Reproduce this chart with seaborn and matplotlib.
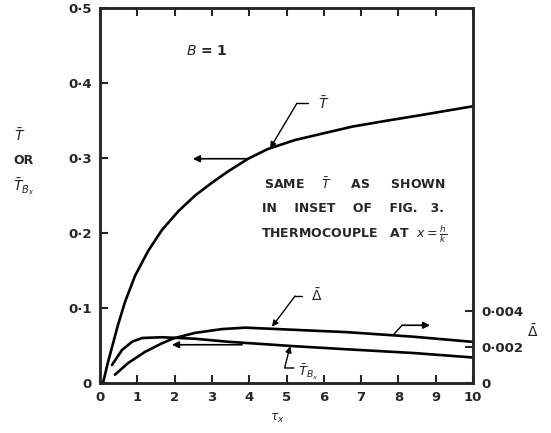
import numpy as np
import pandas as pd
import matplotlib
matplotlib.use("Agg")
import matplotlib.pyplot as plt
import seaborn as sns

sns.set_style("ticks")
plt.rcParams['font.family'] = ['DejaVu Sans']
plt.rcParams['mathtext.fontset'] = 'dejavusans'

# T bar (left axis)
t_x = [0.08, 0.21, 0.35, 0.48, 0.67, 0.94, 1.29, 1.66, 2.1, 2.55, 3.0, 3.43, 3.97, 4.5, 5.23, 6.0, 6.78, 7.6, 8.58, 10.0]
t_y = [0.0, 0.027, 0.053, 0.077, 0.108, 0.143, 0.176, 0.204, 0.229, 0.250, 0.267, 0.282, 0.299, 0.312, 0.324, 0.333, 0.342, 0.349, 0.357, 0.369]

# T bar Bx (left axis)
tb_x = [0.32, 0.59, 0.86, 1.13, 1.66, 2.55, 3.43, 4.34, 5.23, 6.6, 8.4, 10.0]
tb_y = [0.024, 0.044, 0.055, 0.060, 0.061, 0.059, 0.055, 0.052, 0.049, 0.045, 0.040, 0.034]

# Delta bar (right axis)
d_x = [0.40, 0.75, 1.2, 1.66, 1.96, 2.55, 3.27, 3.89, 4.77, 6.62, 8.39, 10.0]
d_y = [0.00046, 0.00110, 0.00172, 0.0022, 0.00247, 0.00278, 0.00299, 0.00307, 0.00299, 0.00282, 0.00257, 0.00228]

x_ticks = list(range(0, 11))
x_ticklabels = [str(v) for v in x_ticks]
y_ticks = [0, 0.1, 0.2, 0.3, 0.4, 0.5]
y_ticklabels = ["0", "0·1", "0·2", "0·3", "0·4", "0·5"]
r_ticks = [0, 0.002, 0.004]
r_ticklabels = ["0", "0·002", "0·004"]

t_df = pd.DataFrame({"tau": t_x, "val": t_y})
tb_df = pd.DataFrame({"tau": tb_x, "val": tb_y})
d_df = pd.DataFrame({"tau": d_x, "val": d_y})

fig = plt.figure(figsize=(5.51, 4.33), dpi=100)
ax = fig.add_axes([100 / 551, 1 - 383 / 433, 373 / 551, 375 / 433])
ax2 = ax.twinx()

lw = 1.9
sns.lineplot(data=t_df, x="tau", y="val", color="black", lw=lw, ax=ax, sort=False)
sns.lineplot(data=tb_df, x="tau", y="val", color="black", lw=lw, ax=ax, sort=False)
sns.lineplot(data=d_df, x="tau", y="val", color="black", lw=lw, ax=ax2, sort=False)

ax.set_xlim(0, 10)
ax.set_ylim(0, 0.5)
ax2.set_ylim(0, 0.0208)

fw = "bold"
fs = 9.5
ax.set_xticks(x_ticks)
ax.set_xticklabels(x_ticklabels, fontsize=fs, fontweight=fw)
ax.set_yticks(y_ticks)
ax.set_yticklabels(y_ticklabels, fontsize=fs, fontweight=fw)
ax2.set_yticks(r_ticks)
ax2.set_yticklabels(r_ticklabels, fontsize=fs, fontweight=fw)
ax.tick_params(axis="both", direction="in", length=6, width=1.5, pad=6,
               top=True, labeltop=False)
ax2.tick_params(axis="y", direction="in", length=6, width=1.5, pad=6)
ax.set_xlabel("")
ax.set_ylabel("")
ax2.set_ylabel("")
for a in (ax, ax2):
    for s in a.spines.values():
        s.set_visible(True)
        s.set_linewidth(1.8)

# annotations
def leader(a, pts, head):
    xs = [p[0] for p in pts]
    ys = [p[1] for p in pts]
    a.plot(xs, ys, color="black", lw=1.0)
    a.annotate("", xy=head, xytext=pts[-1],
               arrowprops=dict(arrowstyle="-|>", color="black", lw=1.0,
                               mutation_scale=9, shrinkA=0, shrinkB=0))

# T bar label
leader(ax, [(5.58, 0.373), (5.28, 0.373)], (4.56, 0.313))
ax.text(5.85, 0.372, r"$\bar{T}$", fontsize=10, va="center", ha="left")
ax.annotate("", xy=(2.49, 0.299), xytext=(3.94, 0.299),
            arrowprops=dict(arrowstyle="-|>", color="black", lw=1.2,
                            mutation_scale=10, shrinkA=0, shrinkB=0))

# Delta label
leader(ax, [(5.42, 0.116), (5.23, 0.116)], (4.61, 0.075))
ax.text(5.65, 0.117, r"$\bar{\Delta}$", fontsize=10, va="center", ha="left")
ax.plot([7.86, 8.1], [0.064, 0.077], color="black", lw=1.0)
ax.annotate("", xy=(8.85, 0.077), xytext=(8.1, 0.077),
            arrowprops=dict(arrowstyle="-|>", color="black", lw=1.2,
                            mutation_scale=10, shrinkA=0, shrinkB=0))

# T bar Bx label
ax.plot([5.2, 4.95, 5.05], [0.020, 0.020, 0.040], color="black", lw=1.0)
ax.annotate("", xy=(5.1, 0.049), xytext=(5.05, 0.040),
            arrowprops=dict(arrowstyle="-|>", color="black", lw=1.0,
                            mutation_scale=9, shrinkA=0, shrinkB=0))
ax.text(5.3, 0.014, r"$\bar{T}_{B_x}$", fontsize=9.5, va="center", ha="left")
ax.annotate("", xy=(1.93, 0.051), xytext=(3.81, 0.051),
            arrowprops=dict(arrowstyle="-|>", color="black", lw=1.2,
                            mutation_scale=10, shrinkA=0, shrinkB=0))

ax.text(2.85, 0.443, r"$B$ = 1", fontsize=10, fontweight=fw, va="center", ha="center")

tx = 4.4
ax.text(tx, 0.265, r"SAME    $\bar{T}$     AS     SHOWN", fontsize=9, fontweight=fw, va="center", ha="left")
ax.text(tx - 0.05, 0.233, "IN    INSET    OF    FIG.   3.", fontsize=9, fontweight=fw, va="center", ha="left")
ax.text(tx - 0.08, 0.199, r"THERMOCOUPLE   AT  $x=\frac{h}{k}$", fontsize=9, fontweight=fw, va="center", ha="left")

# axis titles
fig.text(20 / 551, 1 - 136 / 433, r"$\bar{T}$", fontsize=10, ha="center", va="center")
fig.text(24 / 551, 1 - 161 / 433, "OR", fontsize=9, fontweight=fw, ha="center", va="center")
fig.text(24 / 551, 1 - 187 / 433, r"$\bar{T}_{B_x}$", fontsize=10, ha="center", va="center")
fig.text(533 / 551, 1 - 332 / 433, r"$\bar{\Delta}$", fontsize=10, ha="center", va="center")
fig.text(277 / 551, 1 - 418 / 433, r"$\tau_x$", fontsize=9, ha="center", va="center")

fig.savefig("out.png", dpi=100)
